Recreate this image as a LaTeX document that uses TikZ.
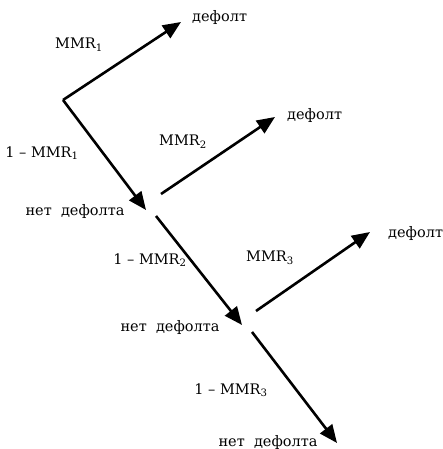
\documentclass[tikz,border=0pt]{standalone}
\usepackage{fontspec}
\setmainfont{DejaVu Serif}
\usetikzlibrary{arrows.meta}

\begin{document}
\begin{tikzpicture}
[
	x=1pt, y=-1pt,
	branch/.style={line width=2.6pt,-{Triangle[length=18pt,width=15pt]}},
	outcome/.style={anchor=west,inner sep=0pt},
	prob/.style={inner sep=0pt},
	font=\fontsize{14.5}{17}\selectfont
]
	\useasboundingbox (0,0) rectangle (443,449);

	% branch points
	\coordinate (s1) at (63,100);
	\coordinate (s2u) at (161,194);
	\coordinate (s2d) at (156,216);
	\coordinate (s3u) at (256,311);
	\coordinate (s3d) at (252,332);

	% arrow tips
	\coordinate (t1u) at (181,22);
	\coordinate (t1d) at (146,210);
	\coordinate (t2u) at (275,117);
	\coordinate (t2d) at (242,325);
	\coordinate (t3u) at (370,232);
	\coordinate (t3d) at (337,443);

	% outcomes
	\node[outcome] (def1) at (192,18) {дефолт};
	\node[outcome] (def2) at (287,116) {дефолт};
	\node[outcome] (def3) at (388,233) {дефолт};
	\node[prob] (nodef1) at (75,211) {нет\ \ дефолта};
	\node[prob] (nodef2) at (170,327) {нет\ \ дефолта};
	\node[prob] (nodef3) at (268,442) {нет\ \ дефолта};

	% probabilities
	\node[prob] (p1) at (79,45) {MMR\textsubscript{1}};
	\node[prob] (q1) at (42,153) {1 -- MMR\textsubscript{1}};
	\node[prob] (p2) at (183,142) {MMR\textsubscript{2}};
	\node[prob] (q2) at (150,260) {1 -- MMR\textsubscript{2}};
	\node[prob] (p3) at (270,258) {MMR\textsubscript{3}};
	\node[prob] (q3) at (231,390) {1 -- MMR\textsubscript{3}};

	% tree
	\draw[branch] (s1) -- (t1u);
	\draw[branch] (s1) -- (t1d);
	\draw[branch] (s2u) -- (t2u);
	\draw[branch] (s2d) -- (t2d);
	\draw[branch] (s3u) -- (t3u);
	\draw[branch] (s3d) -- (t3d);

\end{tikzpicture}
\end{document}
